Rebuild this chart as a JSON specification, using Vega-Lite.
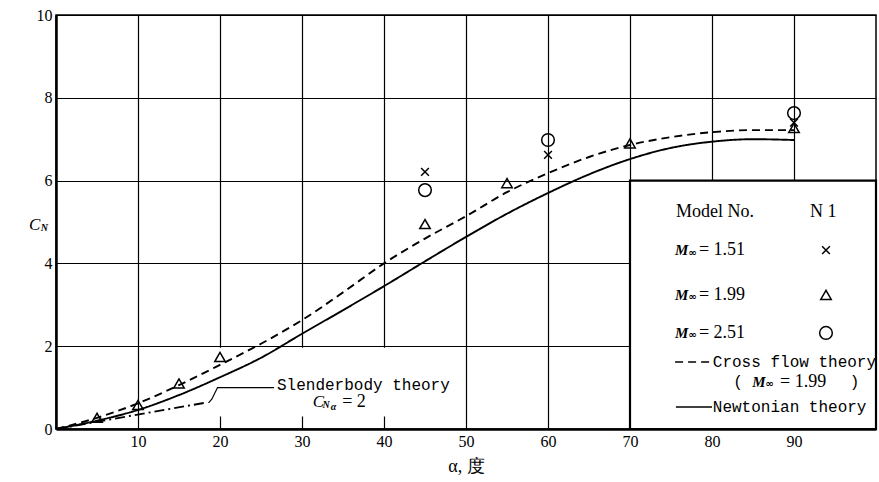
{
  "$schema": "https://vega.github.io/schema/vega-lite/v6.json",
  "width": 820,
  "height": 414,
  "autosize": {"type": "none"},
  "padding": {"left": 56, "top": 15, "right": 3, "bottom": 53},
  "background": "white",
  "config": {
    "font": "Liberation Serif",
    "view": {"stroke": "black", "strokeWidth": 1.5},
    "axis": {
      "labelFont": "Liberation Serif",
      "titleFont": "Liberation Serif",
      "labelFontSize": 16,
      "labelColor": "black",
      "ticks": false,
      "domainColor": "black",
      "domainWidth": 2.5,
      "gridColor": "black",
      "gridWidth": 1.2,
      "gridOpacity": 1,
      "labelPadding": 4
    }
  },
  "datasets": {
    "curves": [
      {"a": 0, "cn": 0, "curve": "Newtonian"},
      {"a": 5, "cn": 0.2, "curve": "Newtonian"},
      {"a": 10, "cn": 0.46, "curve": "Newtonian"},
      {"a": 15, "cn": 0.82, "curve": "Newtonian"},
      {"a": 20, "cn": 1.25, "curve": "Newtonian"},
      {"a": 25, "cn": 1.72, "curve": "Newtonian"},
      {"a": 30, "cn": 2.3, "curve": "Newtonian"},
      {"a": 35, "cn": 2.87, "curve": "Newtonian"},
      {"a": 40, "cn": 3.45, "curve": "Newtonian"},
      {"a": 45, "cn": 4.05, "curve": "Newtonian"},
      {"a": 50, "cn": 4.64, "curve": "Newtonian"},
      {"a": 55, "cn": 5.2, "curve": "Newtonian"},
      {"a": 60, "cn": 5.7, "curve": "Newtonian"},
      {"a": 65, "cn": 6.15, "curve": "Newtonian"},
      {"a": 70, "cn": 6.52, "curve": "Newtonian"},
      {"a": 75, "cn": 6.79, "curve": "Newtonian"},
      {"a": 80, "cn": 6.94, "curve": "Newtonian"},
      {"a": 85, "cn": 7.0, "curve": "Newtonian"},
      {"a": 90, "cn": 6.98, "curve": "Newtonian"},
      {"a": 0, "cn": 0, "curve": "Cross flow"},
      {"a": 5, "cn": 0.27, "curve": "Cross flow"},
      {"a": 10, "cn": 0.62, "curve": "Cross flow"},
      {"a": 15, "cn": 1.06, "curve": "Cross flow"},
      {"a": 20, "cn": 1.55, "curve": "Cross flow"},
      {"a": 25, "cn": 2.06, "curve": "Cross flow"},
      {"a": 30, "cn": 2.63, "curve": "Cross flow"},
      {"a": 35, "cn": 3.3, "curve": "Cross flow"},
      {"a": 40, "cn": 4.0, "curve": "Cross flow"},
      {"a": 45, "cn": 4.6, "curve": "Cross flow"},
      {"a": 50, "cn": 5.14, "curve": "Cross flow"},
      {"a": 55, "cn": 5.72, "curve": "Cross flow"},
      {"a": 60, "cn": 6.18, "curve": "Cross flow"},
      {"a": 65, "cn": 6.57, "curve": "Cross flow"},
      {"a": 70, "cn": 6.86, "curve": "Cross flow"},
      {"a": 75, "cn": 7.05, "curve": "Cross flow"},
      {"a": 80, "cn": 7.17, "curve": "Cross flow"},
      {"a": 85, "cn": 7.22, "curve": "Cross flow"},
      {"a": 90, "cn": 7.22, "curve": "Cross flow"},
      {"a": 0, "cn": 0, "curve": "Slenderbody"},
      {"a": 18.5, "cn": 0.646, "curve": "Slenderbody"}
    ],
    "points": [
      {"a": 45, "cn": 6.21, "series": "M=1.51"},
      {"a": 60, "cn": 6.62, "series": "M=1.51"},
      {"a": 90, "cn": 7.4, "series": "M=1.51"},
      {"a": 5, "cn": 0.27, "series": "M=1.99"},
      {"a": 10, "cn": 0.58, "series": "M=1.99"},
      {"a": 15, "cn": 1.1, "series": "M=1.99"},
      {"a": 20, "cn": 1.74, "series": "M=1.99"},
      {"a": 45, "cn": 4.95, "series": "M=1.99"},
      {"a": 55, "cn": 5.94, "series": "M=1.99"},
      {"a": 70, "cn": 6.9, "series": "M=1.99"},
      {"a": 90, "cn": 7.27, "series": "M=1.99"},
      {"a": 45, "cn": 5.77, "series": "M=2.51"},
      {"a": 60, "cn": 6.98, "series": "M=2.51"},
      {"a": 90, "cn": 7.63, "series": "M=2.51"},
      {"a": 93.9, "cn": 4.32, "series": "M=1.51"},
      {"a": 93.9, "cn": 3.24, "series": "M=1.99"},
      {"a": 93.9, "cn": 2.32, "series": "M=2.51"}
    ],
    "boxes": [
      {"a": 15.5, "a2": 49.6, "cn": 0.3, "cn2": 1.96, "kind": "gap"},
      {"a": 70, "a2": 100, "cn": 0, "cn2": 6, "kind": "legend"}
    ],
    "leader": [
      {"a": 18.6, "cn": 0.63},
      {"a": 19.0, "cn": 0.72},
      {"a": 19.7, "cn": 1.0},
      {"a": 26.6, "cn": 1.0}
    ],
    "legendLines": [
      {"a": 75.5, "cn": 1.62, "curve": "Cross flow"},
      {"a": 79.9, "cn": 1.62, "curve": "Cross flow"},
      {"a": 75.6, "cn": 0.53, "curve": "Newtonian"},
      {"a": 80.0, "cn": 0.53, "curve": "Newtonian"}
    ],
    "serifText": [
      {"a": 75.6, "cn": 5.24, "t": "Model  No."},
      {"a": 91.95, "cn": 5.24, "t": "N 1"},
      {"a": 78.4, "cn": 4.32, "t": "=  1.51"},
      {"a": 78.4, "cn": 3.24, "t": "=  1.99"},
      {"a": 78.4, "cn": 2.32, "t": "=  2.51"},
      {"a": 88.3, "cn": 1.14, "t": "= 1.99"},
      {"a": 34.9, "cn": 0.65, "t": "= 2"}
    ],
    "monoText": [
      {"a": 26.95, "cn": 1.06, "t": "Slenderbody theory"},
      {"a": 80.1, "cn": 1.62, "t": "Cross flow theory"},
      {"a": 80.1, "cn": 0.53, "t": "Newtonian theory"},
      {"a": 82.6, "cn": 1.14, "t": "("},
      {"a": 96.8, "cn": 1.14, "t": ")"}
    ],
    "mText": [
      {"a": 75.5, "cn": 4.32, "t": "M"},
      {"a": 75.5, "cn": 3.24, "t": "M"},
      {"a": 75.5, "cn": 2.32, "t": "M"},
      {"a": 84.9, "cn": 1.14, "t": "M"}
    ],
    "infText": [
      {"a": 77.1, "cn": 4.26, "t": "∞"},
      {"a": 77.1, "cn": 3.18, "t": "∞"},
      {"a": 77.1, "cn": 2.26, "t": "∞"},
      {"a": 86.5, "cn": 1.08, "t": "∞"}
    ],
    "italicText": [
      {"a": -3.3, "cn": 4.93, "t": "C"},
      {"a": 31.3, "cn": 0.65, "t": "C"}
    ],
    "subText": [
      {"a": -1.85, "cn": 4.85, "t": "N"},
      {"a": 32.5, "cn": 0.58, "t": "N"},
      {"a": 33.5, "cn": 0.53, "t": "α"}
    ]
  },
  "encoding": {
    "x": {"field": "a", "type": "quantitative", "scale": {"domain": [0, 100], "nice": false},
      "axis": {"values": [10, 20, 30, 40, 50, 60, 70, 80, 90], "title": "α,  度",
        "labelFont": "Liberation Serif", "labelFontSize": 16,
        "titleFont": "Liberation Serif", "titleFontSize": 18, "titleFontWeight": "normal", "titlePadding": 8, "titleColor": "black"}},
    "y": {"field": "cn", "type": "quantitative", "scale": {"domain": [0, 10], "nice": false},
      "axis": {"values": [0, 2, 4, 6, 8, 10], "title": null, "labelFont": "Liberation Serif", "labelFontSize": 16}}
  },
  "layer": [
    {
      "data": {"name": "boxes"},
      "transform": [{"filter": "datum.kind == 'gap'"}],
      "mark": {"type": "rect", "fill": "white", "strokeWidth": 0},
      "encoding": {
        "x2": {"field": "a2"},
        "y2": {"field": "cn2"}
      }
    },
    {
      "data": {"name": "boxes"},
      "transform": [{"filter": "datum.kind == 'legend'"}],
      "mark": {"type": "rect", "fill": "white", "stroke": "black", "strokeWidth": 2.2},
      "encoding": {
        "x2": {"field": "a2"},
        "y2": {"field": "cn2"}
      }
    },
    {
      "data": {"name": "curves"},
      "mark": {"type": "line", "color": "black", "strokeWidth": 1.9, "interpolate": "monotone", "clip": true},
      "encoding": {
        "strokeDash": {"field": "curve", "type": "nominal", "legend": null,
          "scale": {"domain": ["Newtonian", "Cross flow", "Slenderbody"], "range": [[1, 0], [8, 5], [10, 4, 2, 4]]}}
      }
    },
    {
      "data": {"name": "leader"},
      "mark": {"type": "line", "color": "black", "strokeWidth": 1.2},
      "encoding": {}
    },
    {
      "data": {"name": "legendLines"},
      "mark": {"type": "line", "color": "black", "strokeWidth": 1.6},
      "encoding": {
        "strokeDash": {"field": "curve", "type": "nominal", "legend": null,
          "scale": {"domain": ["Newtonian", "Cross flow"], "range": [[1, 0], [5, 4]]}}
      }
    },
    {
      "data": {"name": "points"},
      "mark": {"type": "point", "filled": false, "color": "black", "strokeWidth": 1.5, "opacity": 1},
      "encoding": {
        "shape": {"field": "series", "type": "nominal", "legend": null,
          "scale": {"domain": ["M=1.51", "M=1.99", "M=2.51"], "range": ["M-1,-1L1,1M1,-1L-1,1", "triangle-up", "circle"]}},
        "size": {"field": "series", "type": "nominal", "legend": null,
          "scale": {"domain": ["M=1.51", "M=1.99", "M=2.51"], "range": [60, 160, 110]}}
      }
    },
    {
      "data": {"name": "serifText"},
      "mark": {"type": "text", "align": "left", "baseline": "middle", "font": "Liberation Serif", "fontSize": 18, "color": "black"},
      "encoding": {"text": {"field": "t"}}
    },
    {
      "data": {"name": "monoText"},
      "mark": {"type": "text", "align": "left", "baseline": "middle", "font": "Liberation Mono", "fontSize": 16, "color": "black"},
      "encoding": {"text": {"field": "t"}}
    },
    {
      "data": {"name": "mText"},
      "mark": {"type": "text", "align": "left", "baseline": "middle", "font": "Liberation Serif", "fontSize": 15, "fontStyle": "italic", "fontWeight": "bold", "color": "black"},
      "encoding": {"text": {"field": "t"}}
    },
    {
      "data": {"name": "infText"},
      "mark": {"type": "text", "align": "left", "baseline": "middle", "font": "DejaVu Sans", "fontSize": 10, "fontWeight": "bold", "color": "black"},
      "encoding": {"text": {"field": "t"}}
    },
    {
      "data": {"name": "italicText"},
      "mark": {"type": "text", "align": "left", "baseline": "middle", "font": "Liberation Serif", "fontSize": 17, "fontStyle": "italic", "color": "black"},
      "encoding": {"text": {"field": "t"}}
    },
    {
      "data": {"name": "subText"},
      "mark": {"type": "text", "align": "left", "baseline": "middle", "font": "Liberation Serif", "fontSize": 10, "fontStyle": "italic", "fontWeight": "bold", "color": "black"},
      "encoding": {"text": {"field": "t"}}
    }
  ]
}
